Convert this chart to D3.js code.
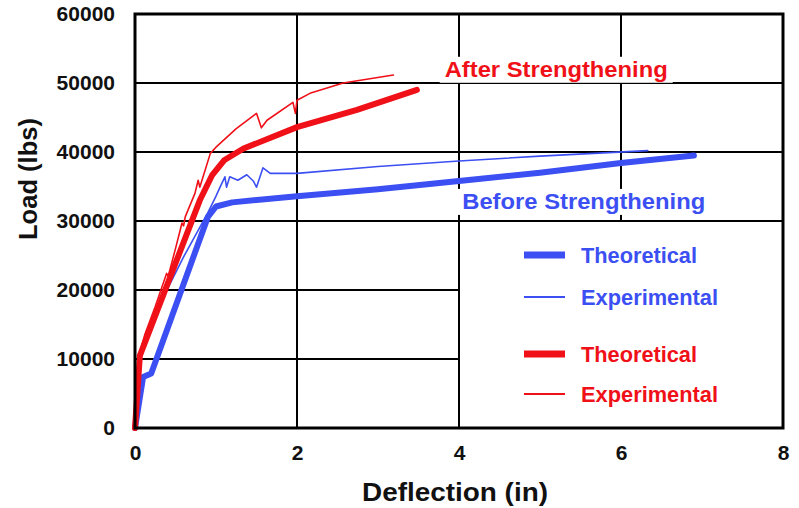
<!DOCTYPE html>
<html>
<head>
<meta charset="utf-8">
<script src="https://cdn.jsdelivr.net/npm/d3@7"></script>
<style>
  body { margin: 0; background: #fff; }
  svg text { font-family: "Liberation Sans", Arial, sans-serif; font-weight: bold; }
</style>
</head>
<body>
<div id="chart"></div>
<script>
// deflection (in) / load (lbs)
const beforeTheory = [
  [0, 0], [0.1, 7400], [0.2, 7900], [0.9, 30600], [1.0, 32100], [1.2, 32700],
  [2, 33600], [3, 34600], [4, 35800], [5, 37000], [6, 38400], [6.9, 39500]
]
const beforeExp = [
  [0, 0], [0.05, 10500], [0.3, 17800], [0.6, 24800], [0.9, 31200], [1.0, 33600],
  [1.05, 34900], [1.11, 36400], [1.13, 34900], [1.17, 36400], [1.27, 35900],
  [1.38, 36700], [1.46, 35800], [1.5, 34900], [1.58, 37700], [1.67, 36900],
  [2, 36900], [3, 37900], [4, 38700], [5, 39400], [6.33, 40200]
]
const afterTheory = [
  [0, 0], [0.06, 10500], [0.8, 33000], [0.95, 36600], [1.1, 38800],
  [1.34, 40500], [2, 43600], [2.74, 46100], [3.48, 49000]
]
const afterExp = [
  [0, 0], [0.04, 10200], [0.12, 13500], [0.25, 17600], [0.39, 22400],
  [0.41, 22000], [0.5, 26000], [0.58, 29700], [0.6, 29300], [0.62, 30600],
  [0.74, 34000], [0.78, 35900], [0.8, 34900], [0.93, 39800], [1.0, 40700],
  [1.25, 43400], [1.5, 45600], [1.56, 43500], [1.63, 44600], [1.95, 47200],
  [1.98, 45600], [2.0, 47500], [2.16, 48500], [2.57, 50000], [3.19, 51150]
]

const xTicks = [0, 2, 4, 6, 8]
const yTicks = [0, 10000, 20000, 30000, 40000, 50000, 60000]

const blue = '#3c4ff2'
const red = '#f01018'

const series = [
  { data: beforeTheory, color: blue, width: 6, name: 'Theoretical' },
  { data: beforeExp, color: blue, width: 1.6, name: 'Experimental' },
  { data: afterTheory, color: red, width: 6, name: 'Theoretical' },
  { data: afterExp, color: red, width: 1.6, name: 'Experimental' }
]

const W = 799, H = 508
const margin = { top: 14, right: 16, bottom: 80, left: 135 }

const svg = d3.select('#chart').append('svg')
  .attr('width', W)
  .attr('height', H)

const x = d3.scaleLinear().domain([0, 8]).range([margin.left, W - margin.right])
const y = d3.scaleLinear().domain([0, 60000]).range([H - margin.bottom, margin.top])

// grid
svg.append('g')
  .selectAll('line')
  .data(xTicks.slice(1, -1))
  .join('line')
  .attr('x1', d => x(d)).attr('x2', d => x(d))
  .attr('y1', y(60000)).attr('y2', y(0))
  .attr('stroke', '#000').attr('stroke-width', 2)

svg.append('g')
  .selectAll('line')
  .data(yTicks.slice(1, -1))
  .join('line')
  .attr('x1', x(0)).attr('x2', x(8))
  .attr('y1', d => y(d)).attr('y2', d => y(d))
  .attr('stroke', '#000').attr('stroke-width', 2)

// legend box sits over the grid in the lower right
svg.append('rect')
  .attr('x', x(4)).attr('y', y(30000))
  .attr('width', x(8) - x(4)).attr('height', y(0) - y(30000))
  .attr('fill', '#fff').attr('stroke', '#000').attr('stroke-width', 2)

const legend = svg.append('g')
const legendRows = [255, 297, 354, 394]
series.forEach((s, i) => {
  legend.append('line')
    .attr('x1', 524).attr('x2', 565)
    .attr('y1', legendRows[i]).attr('y2', legendRows[i])
    .attr('stroke', s.color).attr('stroke-width', s.width === 6 ? 7 : 2)
  legend.append('text')
    .attr('x', 581).attr('y', legendRows[i])
    .attr('dy', '0.35em')
    .attr('font-size', 22)
    .attr('textLength', s.width === 6 ? 116 : 137)
    .attr('lengthAdjust', 'spacingAndGlyphs')
    .attr('fill', s.color)
    .text(s.name)
})

// annotations with white backing
const notes = [
  { text: 'After Strengthening', at: [5.2, 50900], len: 223, color: red },
  { text: 'Before Strengthening', at: [5.54, 31750], len: 243, color: blue }
]
notes.forEach(n => {
  const g = svg.append('g')
  const t = g.append('text')
    .attr('x', x(n.at[0])).attr('y', y(n.at[1]))
    .attr('text-anchor', 'middle')
    .attr('font-size', 22)
    .attr('textLength', n.len)
    .attr('lengthAdjust', 'spacingAndGlyphs')
    .attr('fill', n.color)
    .text(n.text)
  const b = t.node().getBBox()
  g.insert('rect', 'text')
    .attr('x', b.x - 5).attr('y', b.y)
    .attr('width', b.width + 10).attr('height', b.height + 1)
    .attr('fill', '#fff')
})

// curves
const line = d3.line().x(d => x(d[0])).y(d => y(d[1]))
svg.append('g')
  .selectAll('path')
  .data(series)
  .join('path')
  .attr('d', d => line(d.data))
  .attr('fill', 'none')
  .attr('stroke', d => d.color)
  .attr('stroke-width', d => d.width)
  .attr('stroke-linejoin', 'round')
  .attr('stroke-linecap', 'round')

// frame
svg.append('rect')
  .attr('x', x(0)).attr('y', y(60000))
  .attr('width', x(8) - x(0)).attr('height', y(0) - y(60000))
  .attr('fill', 'none').attr('stroke', '#000').attr('stroke-width', 3)

// axes
const xAxis = svg.append('g')
  .attr('transform', `translate(0, ${y(0)})`)
  .call(d3.axisBottom(x).tickValues(xTicks).tickSize(0).tickPadding(17))
  .call(g => g.select('.domain').remove())
xAxis.selectAll('text')
  .attr('font-size', 21)
  .attr('font-family', '"Liberation Sans", Arial, sans-serif')
  .attr('fill', '#111')

const yAxis = svg.append('g')
  .attr('transform', `translate(${x(0)}, 0)`)
  .call(d3.axisLeft(y).tickValues(yTicks).tickFormat(d3.format('d')).tickSize(0).tickPadding(20))
  .call(g => g.select('.domain').remove())
yAxis.selectAll('text')
  .attr('font-size', 21)
  .attr('font-family', '"Liberation Sans", Arial, sans-serif')
  .attr('fill', '#111')

svg.append('text')
  .attr('x', 455).attr('y', 501)
  .attr('text-anchor', 'middle')
  .attr('font-size', 25)
  .attr('textLength', 186)
  .attr('lengthAdjust', 'spacingAndGlyphs')
  .attr('fill', '#111')
  .text('Deflection (in)')

svg.append('text')
  .attr('transform', 'translate(37, 179) rotate(-90)')
  .attr('text-anchor', 'middle')
  .attr('font-size', 25)
  .attr('textLength', 122)
  .attr('lengthAdjust', 'spacingAndGlyphs')
  .attr('fill', '#111')
  .text('Load (lbs)')
</script>
</body>
</html>
